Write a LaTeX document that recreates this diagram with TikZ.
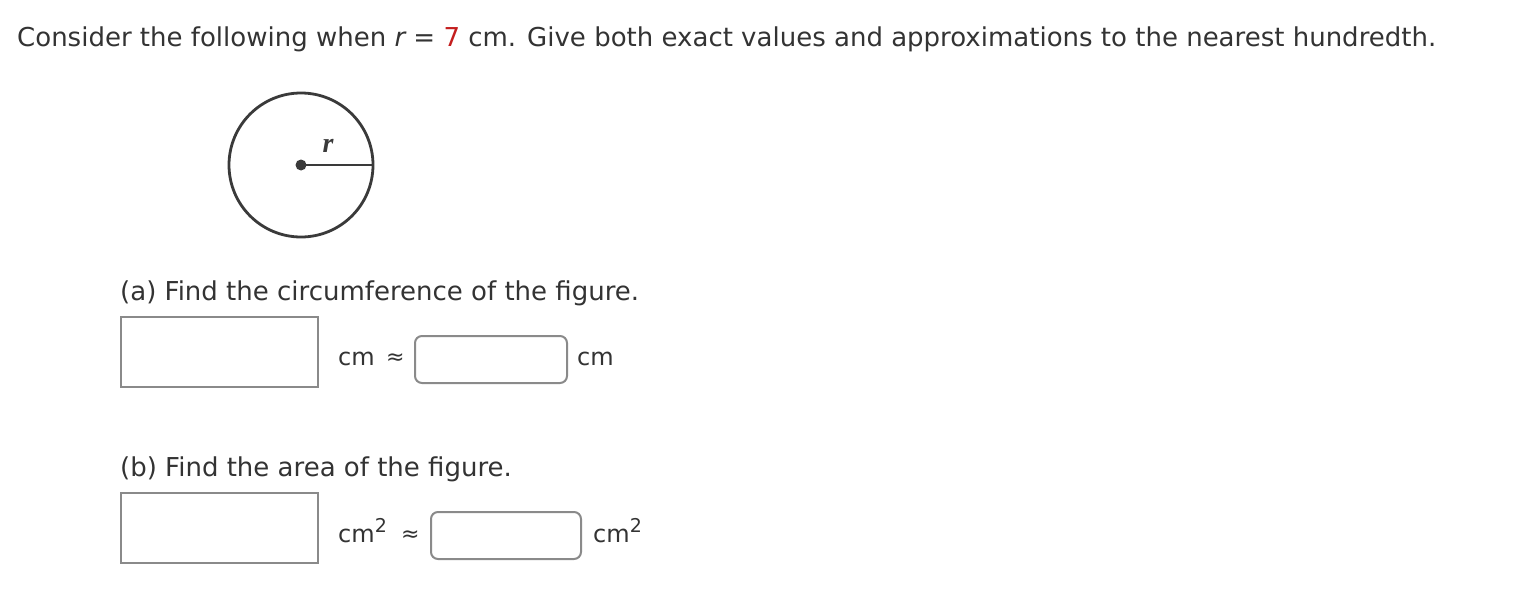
\documentclass[tikz,border=0pt]{standalone}
\usepackage{fontspec}
\setmainfont{DejaVu Sans}
\newfontfamily\serifit{Liberation Serif}
\definecolor{txt}{HTML}{333333}
\definecolor{redv}{HTML}{C41E1E}
\definecolor{boxc}{HTML}{8A8A8A}
\definecolor{figc}{HTML}{3A3A3A}
\newcommand{\apx}{{\fontsize{22}{24}\selectfont ≈}}
\newcommand{\sqr}{\raisebox{10pt}{\fontsize{19}{20}\selectfont 2}}
\tikzset{
  maintext/.style={anchor=base west, inner sep=0pt, text=txt, font=\fontsize{26}{30}\selectfont},
  unittext/.style={anchor=base west, inner sep=0pt, text=txt, font=\fontsize{24}{27}\selectfont},
  exactbox/.style={draw=boxc, line width=2pt, fill=white},
  approxbox/.style={draw=boxc, line width=2pt, rounded corners=7pt, fill=white},
}
\begin{document}
\begin{tikzpicture}[x=1pt,y=-1pt]
\useasboundingbox[fill=white] (0,0) rectangle (1527,602);
\node[maintext] (q) at (17,47) {Consider the following when {\itshape r} = \textcolor{redv}{7} cm. Give both exact values and approximations to the nearest hundredth.};
% circle
\coordinate (c) at (301,165);
\coordinate (e) at (373,165);
\draw[line width=2.8pt, figc] (c) circle[radius=72];
\fill[figc] (c) circle[radius=5.5];
\draw[line width=2.6pt, figc] (c) -- (e);
\node[anchor=base, inner sep=0pt, text=figc, font=\serifit\itshape\bfseries\fontsize{28}{30}\selectfont] (rl) at (328,152) {r};
% part a
\node[maintext] (pa) at (120,300) {(a) Find the circumference of the figure.};
\draw[exactbox] (121,317) rectangle (318,387);
\node[unittext] (ua1) at (338,365) {cm};
\node[anchor=base west, inner sep=0pt, text=txt] (ax1) at (386,364) {\apx};
\draw[approxbox] (415,336) rectangle (567,383);
\node[unittext] (ua2) at (577,365) {cm};
% part b
\node[maintext] (pb) at (120,476) {(b) Find the area of the figure.};
\draw[exactbox] (121,493) rectangle (318,563);
\node[unittext] (ub1) at (338,542) {cm\sqr};
\node[anchor=base west, inner sep=0pt, text=txt] (ax2) at (401,541) {\apx};
\draw[approxbox] (431,512) rectangle (581,559);
\node[unittext] (ub2) at (593,542) {cm\sqr};
\end{tikzpicture}
\end{document}
